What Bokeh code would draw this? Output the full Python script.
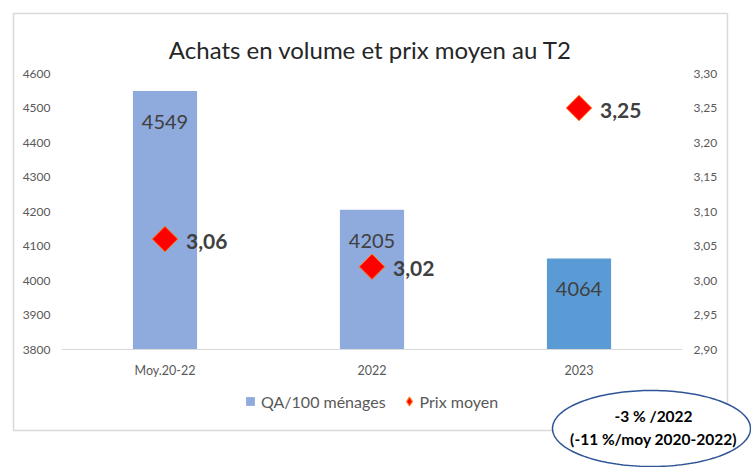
import numpy as np
from bokeh.plotting import figure
from bokeh.models import (ColumnDataSource, Range1d, LinearAxis, FixedTicker,
                          CustomJSTickFormatter, Label, PolyAnnotation, Legend, LegendItem)
from bokeh.core.properties import value
from bokeh.embed import file_html
from bokeh.resources import INLINE

# ---- data ----
categories = ["Moy.20-22", "2022", "2023"]
volumes = [4549, 4205, 4064]
prices = [3.06, 3.02, 3.25]
bar_colors = ["#8FAADC", "#8FAADC", "#5B9BD5"]
vol_ticks = [3800, 3900, 4000, 4100, 4200, 4300, 4400, 4500, 4600]
price_ticks = [2.90, 2.95, 3.00, 3.05, 3.10, 3.15, 3.20, 3.25, 3.30]
chart_title = "Achats en volume et prix moyen au T2"
series_names = ["QA/100 ménages", "Prix moyen"]
note_lines = ["-3 % /2022", "(-11 %/moy 2020-2022)"]

FONT = "Lato"
GRAY = "#595959"
DARK = "#404040"

# ---- layout geometry (canvas pixels) ----
W, H = 751, 467
PL, PR, PT, PB = 61, 682, 73, 349        # plot area inside the canvas
n = len(categories)
ux = (PR - PL) / n                        # px per category
vmin, vmax = vol_ticks[0], vol_ticks[-1]
pmin, pmax = price_ticks[0], price_ticks[-1]
vpp = (vmax - vmin) / (PB - PT)
ppp = (pmax - pmin) / (PB - PT)

x_rng = Range1d(-PL / ux, n + (W - PR) / ux)
y_rng = Range1d(vmin - (H - PB) * vpp, vmax + PT * vpp)
p_rng = Range1d(pmin - (H - PB) * ppp, pmax + PT * ppp)

p = figure(width=W, height=H, x_range=x_rng, y_range=y_rng,
           x_axis_location=None, y_axis_location=None,
           output_backend="svg", toolbar_location=None,
           min_border=0, min_border_left=0, min_border_right=0,
           min_border_top=0, min_border_bottom=0)
p.extra_y_ranges = {"price": p_rng}
p.outline_line_color = None
p.xgrid.visible = False
p.ygrid.visible = False
p.background_fill_color = "white"
p.border_fill_color = "white"

xpos = [i + 0.5 for i in range(n)]
src = ColumnDataSource(dict(
    x=xpos, vol=volumes, price=prices, color=bar_colors,
    vol_lbl=[str(v) for v in volumes],
    price_lbl=[f"{v:.2f}".replace(".", ",") for v in prices],
))

bars = p.vbar(x="x", top="vol", bottom=vmin, width=0.31, fill_color="color",
              line_color=None, source=src)
# legend proxies (zero size in the plot, drawn under the real marks)
bar_key = p.scatter(x="x", y="vol", marker="square", size=0, fill_color="#8FAADC",
                    line_color=None, source=src)
dot_key = p.scatter(x="x", y="price", y_range_name="price", marker="diamond", size=0,
                    fill_color="#FF0000", line_color="#FF7A1A", line_width=1.2, source=src)
dots = p.scatter(x="x", y="price", y_range_name="price", marker="square", angle=np.pi / 4,
                 size=18, fill_color="#FF0000", line_color="#FF7A1A", line_width=1, source=src)

p.text(x="x", y="vol", text="vol_lbl", source=src, y_offset=31, text_align="center",
       text_baseline="middle", text_font=value(FONT), text_font_size="20px", text_color=DARK)
p.text(x="x", y="price", text="price_lbl", source=src, y_range_name="price", x_offset=21,
       y_offset=2, text_align="left", text_baseline="middle", text_font=value(FONT),
       text_font_size="21px", text_font_style="bold", text_color=DARK)

# ---- axes (fixed inside the canvas) ----
def style_axis(a, size):
    a.major_tick_line_color = None
    a.minor_tick_line_color = None
    a.major_tick_out = 0
    a.major_tick_in = 0
    a.major_label_text_font = FONT
    a.major_label_text_font_size = size
    a.major_label_text_color = GRAY

xa = LinearAxis(ticker=FixedTicker(ticks=xpos), fixed_location=vmin, bounds=(0, n),
                formatter=CustomJSTickFormatter(args=dict(cats=categories),
                                                code="return cats[Math.round(tick - 0.5)];"))
style_axis(xa, "12.5px")
xa.axis_line_color = "#D9D9D9"
xa.axis_line_width = 1.2
xa.major_label_standoff = 13
p.add_layout(xa, "below")

ly = LinearAxis(ticker=FixedTicker(ticks=vol_ticks), fixed_location=0)
style_axis(ly, "12px")
ly.axis_line_color = None
ly.major_label_standoff = 11
p.add_layout(ly, "left")

ry = LinearAxis(y_range_name="price", ticker=FixedTicker(ticks=price_ticks), fixed_location=n,
                formatter=CustomJSTickFormatter(code="return tick.toFixed(2).replace('.', ',');"))
style_axis(ry, "12px")
ry.axis_line_color = None
ry.major_label_standoff = 11
p.add_layout(ry, "right")

# ---- decorations (screen units, origin bottom-left of canvas) ----
def sy(y):
    return H - y

border = PolyAnnotation(xs=[13, 727, 727, 13], ys=[sy(13), sy(13), sy(430), sy(430)],
                        xs_units="screen", ys_units="screen", fill_alpha=0,
                        line_color="#D9D9D9", line_alpha=1, line_width=1.5)
p.add_layout(border)

p.add_layout(Label(x=370, y=sy(49), x_units="screen", y_units="screen", text=chart_title,
                   text_align="center", text_baseline="alphabetic", text_font=FONT,
                   text_font_size="24px", text_color="#262626"))

legend = Legend(items=[LegendItem(label=series_names[0], renderers=[bar_key], index=0),
                       LegendItem(label=series_names[1], renderers=[dot_key], index=0)],
                location=(239, sy(412)), orientation="horizontal")
legend.border_line_color = None
legend.background_fill_alpha = 0
legend.padding = 0
legend.margin = 0
legend.spacing = 12
legend.glyph_width = 22
legend.glyph_height = 22
legend.label_standoff = -6
legend.label_height = 22
legend.label_text_font = FONT
legend.label_text_font_size = "16px"
legend.label_text_color = GRAY
legend.label_text_baseline = "middle"
p.add_layout(legend, "center")

ecx, ecy, ea, eb = 651, 428, 99, 38
t = np.linspace(0, 2 * np.pi, 180)
ell = PolyAnnotation(xs=list(ecx + ea * np.cos(t)), ys=list(sy(ecy) + eb * np.sin(t)),
                     xs_units="screen", ys_units="screen", fill_color="white", fill_alpha=1,
                     line_color="#2F5597", line_alpha=1, line_width=1.5)
p.add_layout(ell)
for line, yy in zip(note_lines, [415, 438]):
    p.add_layout(Label(x=653, y=sy(yy), x_units="screen", y_units="screen", text=line,
                       text_align="center", text_baseline="middle", text_font=FONT,
                       text_font_size="15.5px", text_font_style="bold", text_color="#000000"))

open("out.html", "w").write(file_html(p, INLINE))
